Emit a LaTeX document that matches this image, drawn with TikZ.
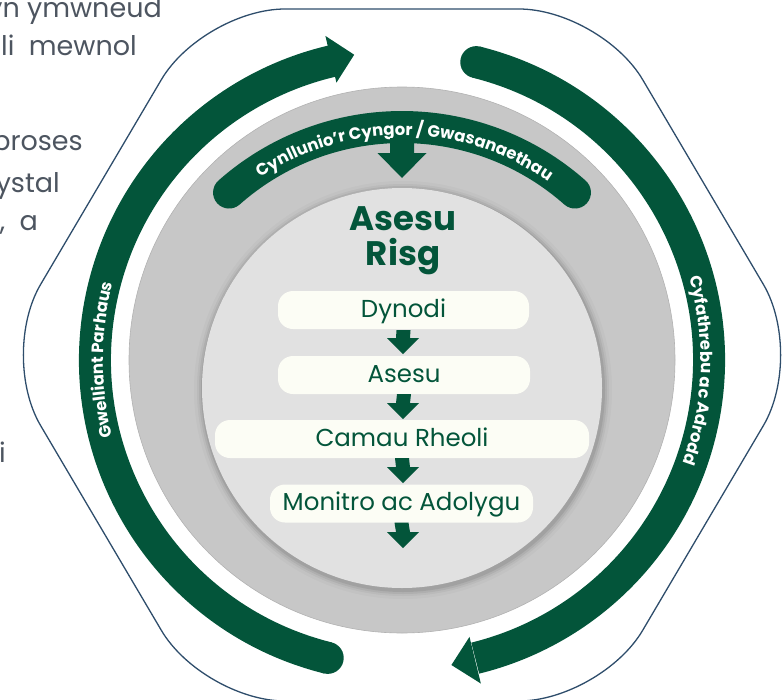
\documentclass[tikz,border=0pt]{standalone}
\usepackage{fontspec}
\setmainfont{Poppins}
\usetikzlibrary{decorations.text,calc}
\definecolor{dkgreen}{HTML}{03553A}
\definecolor{ringgray}{HTML}{C7C7C7}
\definecolor{coregray}{HTML}{E1E1E1}
\definecolor{pillfill}{HTML}{FCFDF5}
\definecolor{hexline}{HTML}{2E4D6B}
\definecolor{paratext}{HTML}{4D5560}
\newcommand{\dnarrow}[5]{%
  \fill[dkgreen] ($(#1)+(-#3,0)$) -- ($(#1)+(#3,0)$) -- ($(#2)+(#3,#5)$) -- ($(#2)+(#4,#5)$) -- (#2) -- ($(#2)+(-#4,#5)$) -- ($(#2)+(-#3,#5)$) -- cycle;}
\begin{document}
\begin{tikzpicture}[x=1pt,y=1pt,
  pillbox/.style={fill=pillfill, rounded corners=15pt, inner sep=0pt, minimum height=38pt,
    text=dkgreen, font=\fontsize{24.5}{24.5}\selectfont, text height=17pt, text depth=3pt},
  titletext/.style={anchor=base, text=dkgreen, font=\fontsize{34}{34}\selectfont\bfseries, inner sep=0pt},
  paranode/.style={anchor=base east, text=paratext, font=\fontsize{27}{27}\selectfont, inner sep=0pt},
  bigband/.style={draw=dkgreen, line width=32pt},
  arclabel/.style={decorate, decoration={text along path, text align=center, text color=white,
    text={|\fontsize{16.5}{16.5}\selectfont\bfseries|#1}}}
]
\useasboundingbox (0,0) rectangle (782,-699);
\clip (0,0) rectangle (782,-699);
\coordinate (C) at (402,-360);
\coordinate (I) at (402,-388);

% paragraph fragments at left edge
\node[paranode] (p1) at (162,-17) {yn ymwneud};
\node[paranode] (p2) at (137,-55) {li\ \ mewnol};
\node[paranode] (p3) at (83,-150) {proses};
\node[paranode] (p4) at (60,-192) {ystal};
\node[paranode] (p5) at (38,-230) {,\ \ a};
\node[paranode] (p6) at (6,-462) {i};

% rounded hexagon outline
\draw[hexline, line width=1.3pt, rounded corners=82pt]
  (402,-9) -- (601,-9) -- (805,-355) -- (601,-701) -- (203,-701) -- (-1,-355) -- (203,-9) -- cycle;

% grey ring
\fill[ringgray] (C) circle (273pt);
\draw[black!30, line width=0.6pt] (C) circle (273pt);

% shadow of inner disc
\foreach \r/\o in {209/0.025, 206/0.04, 204/0.06, 202/0.08} {
  \fill[black, opacity=\o] ([shift={(1pt,-2pt)}]I) circle (\r pt);
}
\fill[coregray] (I) circle (200pt);

% outer green arcs
\draw[bigband] ([shift={(C)}]256:307pt) arc[start angle=256, end angle=102.8, radius=307pt];
\fill[dkgreen] ([shift={(C)}]256:307pt) circle (16pt);
\fill[dkgreen] ([shift={(C)}]103.3:333pt) -- ([shift={(C)}]98.9:309pt) -- ([shift={(C)}]103.3:285pt) -- cycle;

\draw[bigband] ([shift={(C)}]76:307pt) arc[start angle=76, end angle=-76.2, radius=307pt];
\fill[dkgreen] ([shift={(C)}]76:307pt) circle (16pt);
\fill[dkgreen] ([shift={(C)}]283.7:333pt) -- ([shift={(C)}]279.2:309pt) -- ([shift={(C)}]283.7:285pt) -- cycle;

\path[arclabel={Gwelliant Parhaus}] ([shift={(C)}]215:299pt) arc[start angle=215, end angle=145, radius=299pt];
\path[arclabel={Cyfathrebu ac Adrodd}] ([shift={(C)}]33:299pt) arc[start angle=33, end angle=-37, radius=299pt];

% inner planning band
\draw[dkgreen, line width=32pt, line cap=round] ([shift={(I)}]131.5:261pt) arc[start angle=131.5, end angle=48.5, radius=261pt];
\path[arclabel={Cynllunio’r Cyngor / Gwasanaethau}] ([shift={(I)}]134:253pt) arc[start angle=134, end angle=44.6, radius=253pt];
\coordinate (bandfoot) at (402,-138);
\coordinate (bandtip) at (402,-178);
\dnarrow{bandfoot}{bandtip}{12}{24.5}{25}

% title
\node[titletext] (ttl1) at (403,-230) {Asesu};
\node[titletext] (ttl2) at (403,-265) {Risg};

% steps
\node[pillbox, minimum width=251pt] (b1) at (403.5,-310) {Dynodi};
\node[pillbox, minimum width=252pt] (b2) at (404,-375) {Asesu};
\node[pillbox, minimum width=374pt] (b3) at (402,-439) {Camau Rheoli};
\node[pillbox, minimum width=263pt] (b4) at (401.5,-503.5) {Monitro ac Adolygu};

\coordinate (a1) at (403,-354);
\coordinate (a2) at (403,-419);
\coordinate (a3) at (403,-483);
\coordinate (a4) at (403,-548);
\coordinate (s1) at ($(b1.south)+(0,-1)$);
\dnarrow{s1}{a1}{7}{16}{16}
\dnarrow{b2.south}{a2}{7}{16}{16}
\dnarrow{b3.south}{a3}{7}{16}{16}
\dnarrow{b4.south}{a4}{7}{16}{16}
\end{tikzpicture}
\end{document}
